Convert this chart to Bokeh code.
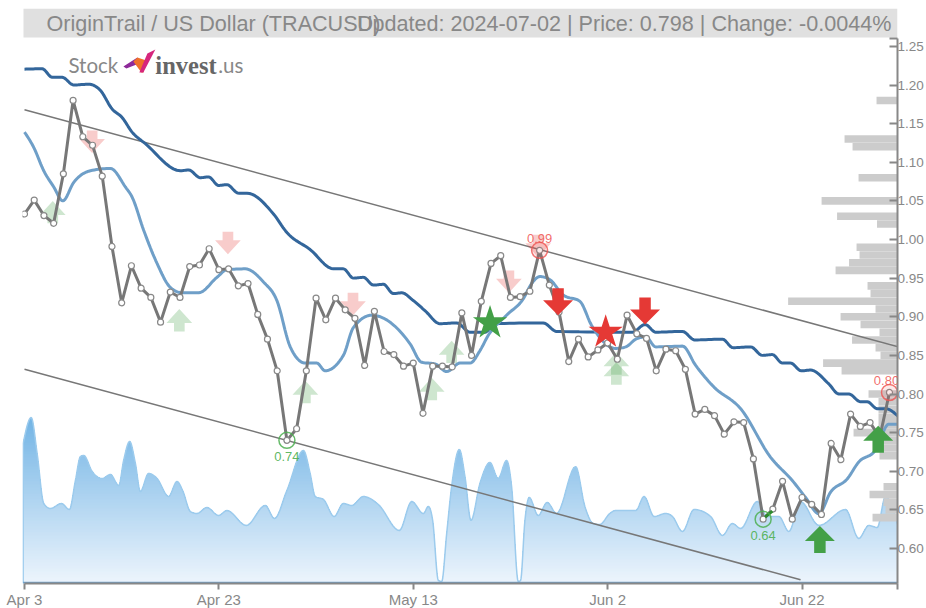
import numpy as np
from bokeh.plotting import figure
from bokeh.models import Range1d, Label, BoxAnnotation, FixedTicker
from bokeh.embed import file_html
from bokeh.resources import INLINE

# ---- data -------------------------------------------------------------
price = [1.033,1.051,1.031,1.021,1.085,1.180,1.133,1.122,1.082,0.991,
         0.918,0.966,0.937,0.925,0.893,0.932,0.925,0.965,0.967,0.988,
         0.961,0.962,0.940,0.943,0.903,0.871,0.830,0.740,0.755,0.830,
         0.924,0.896,0.924,0.909,0.898,0.837,0.907,0.855,0.851,0.836,
         0.840,0.775,0.836,0.836,0.835,0.905,0.850,0.920,0.969,0.979,
         0.925,0.926,0.933,0.986,0.941,0.906,0.842,0.871,0.848,0.857,
         0.866,0.845,0.902,0.878,0.872,0.830,0.858,0.856,0.832,0.774,
         0.780,0.772,0.748,0.764,0.763,0.716,0.638,0.651,0.687,0.638,
         0.666,0.657,0.644,0.736,0.715,0.774,0.758,0.763,0.744,0.802]

slow_days = [0,1.82,2.85,3.87,5.07,6.61,7.81,9.01,10.04,11.07,12.44,16.03,16.89,18.09,18.94,
             19.97,20.83,22.02,22.89,25.62,27.0,29.39,31.79,32.81,33.84,34.87,35.9,36.93,37.95,
             38.82,40.0,41.2,42.75,44.47,45.84,47.38,48.4,53.37,54.75,62.56,63.85,64.95,67.7,
             68.96,71.81,72.9,74.72,75.92,76.95,77.98,78.83,79.93,80.88,82.76,83.79,84.82,86.02,
             86.71,87.74,88.59,89.9]
slow_ma = [1.2205,1.221,1.210,1.210,1.200,1.201,1.193,1.169,1.158,1.139,1.124,1.089,1.090,1.080,1.081,
           1.070,1.071,1.060,1.060,1.033,1.009,0.987,0.962,0.962,0.950,0.951,0.941,0.942,0.930,
           0.931,0.921,0.908,0.891,0.892,0.880,0.880,0.891,0.892,0.881,0.880,0.890,0.880,0.881,
           0.870,0.871,0.860,0.861,0.850,0.851,0.840,0.840,0.830,0.831,0.813,0.800,0.800,0.790,
           0.790,0.781,0.781,0.771]

fast_days = [0,0.96,1.98,3.01,3.94,5.07,6.78,8.84,10.38,11.07,12.26,13.64,15.0,16.21,17.91,19.8,
             20.83,22.71,24.59,25.97,27.34,28.88,30.08,30.93,32.81,33.84,35.73,39.67,40.87,42.24,
             43.44,44.8,45.84,46.86,47.72,49.6,51.31,52.18,53.03,54.06,55.43,57.14,58.34,60.84,
             61.87,62.9,63.92,64.95,67.7,69.06,70.94,73.69,76.77,79.0,80.37,81.74,82.94,84.65,
             85.84,87.55,88.93,89.9]
fast_ma = [1.139,1.119,1.089,1.068,1.050,1.074,1.089,1.092,1.068,1.055,1.012,0.969,0.938,0.931,0.931,0.951,
           0.961,0.962,0.945,0.921,0.861,0.840,0.840,0.830,0.850,0.886,0.902,0.865,0.841,0.839,
           0.829,0.840,0.840,0.856,0.876,0.902,0.923,0.943,0.952,0.948,0.928,0.920,0.889,0.859,
           0.861,0.871,0.874,0.861,0.862,0.837,0.809,0.781,0.718,0.688,0.666,0.645,0.673,0.690,
           0.712,0.727,0.761,0.761]

vol_days = [-0.14,0.69,1.3,1.98,2.67,3.8,4.62,5.24,5.76,6.1,6.96,7.98,8.84,9.7,10.2,10.82,11.41,11.92,
            12.77,13.64,14.83,15.69,16.31,17.06,17.75,18.77,19.97,20.83,22.82,24.77,25.72,27.0,28.7,
            29.39,29.91,30.76,31.86,32.81,33.67,34.87,36.41,38.57,39.84,41.04,41.55,42.0,42.58,42.93,
            43.44,43.95,44.74,45.32,45.94,46.86,47.89,48.74,49.6,50.12,50.8,51.04,51.49,51.93,52.86,
            53.78,54.75,56.7,57.66,58.52,59.2,60.22,60.84,61.87,62.9,63.75,64.78,65.98,66.67,67.7,
            68.89,70.6,71.81,72.83,73.69,75.4,76.43,77.62,78.65,79.85,81.74,84.48,85.84,86.87,87.74,
            88.59,89.9]
volume = [140,166,130,80,75,80,74,103,127,128,112,105,109,98,123,142,120,92,
          110,105,87,102,92,72,70,76,68,73,58,78,65,93,133,
          110,87,84,67,80,78,87,79,53,82,70,77,63,3,2,
          50,97,134,107,63,100,121,105,123,97,2,3,63,86,68,
          81,70,117,77,60,59,70,73,73,73,87,67,70,67,52,
          74,67,48,60,55,82,67,67,52,82,58,74,45,58,56,
          87,57]

profile_levels = [1.18,1.13,1.12,1.08,1.05,1.03,1.02,0.99,0.98,0.97,0.96,0.94,0.93,0.92,0.91,0.90,0.89,
                  0.88,0.87,0.86,0.85,0.84,0.83,0.80,0.79,0.78,0.77,0.76,0.75,0.74,0.73,0.72,0.68,
                  0.67,0.66,0.65,0.64]
profile_widths = [21,53,45,39,76,60.5,20.5,41,38,48.5,62,30,27,109.5,22,57,37,
                  18,45.5,22,17,74.5,56,29,19,19,19,19,44,19,19,18,14,
                  28,14,12,25]

weak_buy_days = [2.91,15.93,28.9,41.9,43.95,60.9,60.9]
weak_buy_vals = [1.050,0.910,0.817,0.821,0.869,0.854,0.841]
weak_sell_days = [6.96,20.93,33.8,49.84,52.85]
weak_sell_vals = [1.112,0.981,0.902,0.931,0.977]
strong_buy_days = [81.84,87.84]
strong_buy_vals = [0.629,0.759]
strong_sell_days = [54.9,63.85]
strong_sell_vals = [0.902,0.890]
star_buy_days = [47.9]
star_buy_vals = [0.892]
star_sell_days = [59.8]
star_sell_vals = [0.880]

high_days = [53,89]
high_vals = [0.986,0.802]
high_text = ["0.99","0.80"]
high_text_shift = [0,-3]
low_days = [27,76]
low_vals = [0.740,0.638]
low_text = ["0.74","0.64"]

upper_days = [0,89.9]
upper_vals = [1.168,0.861]
lower_days = [0,79.85]
lower_vals = [0.832,0.5595]
stub_days = [76.2,76.95]
stub_vals = [0.6405,0.6485]

x_ticks = [0,20,40,60,80,89.8]
x_tick_labels = ["Apr 3","Apr 23","May 13","Jun 2","Jun 22",""]
y_ticks = [0.60,0.65,0.70,0.75,0.80,0.85,0.90,0.95,1.00,1.05,1.10,1.15,1.20,1.25,1.2606]
y_tick_labels = ["0.60","0.65","0.70","0.75","0.80","0.85","0.90","0.95","1.00","1.05","1.10","1.15","1.20","1.25",""]

title_left = "OriginTrail / US Dollar (TRACUSD)"
title_right = "Updated: 2024-07-02 | Price: 0.798 | Change: -0.0044%"

# ---- scale helpers ----------------------------------------------------
PX_DAY = 9.73
PX_UNIT = 772.5
X = lambda px: (px - 24) / PX_DAY
Y = lambda py: 0.6 + (548 - py) / PX_UNIT


def smooth(x, y, n=10):
    """Monotone cubic drawing of the read points (the chart's curve style)."""
    x = np.asarray(x, float); y = np.asarray(y, float)
    h = np.diff(x); s = np.diff(y) / h
    m = np.zeros_like(y)
    for i in range(1, len(x) - 1):
        p_ = (s[i-1]*h[i] + s[i]*h[i-1]) / (h[i-1] + h[i])
        m[i] = (np.sign(s[i-1]) + np.sign(s[i])) * min(abs(s[i-1]), abs(s[i]), 0.5*abs(p_))
    m[0] = (3*s[0] - m[1]) / 2
    m[-1] = (3*s[-1] - m[-2]) / 2
    xs, ys = [], []
    for i in range(len(h)):
        t = np.linspace(0, 1, n, endpoint=False)
        a = (2*t**3 - 3*t**2 + 1); b = (t**3 - 2*t**2 + t); c = (-2*t**3 + 3*t**2); d = (t**3 - t**2)
        xs.append(x[i] + t*h[i])
        ys.append(a*y[i] + b*h[i]*m[i] + c*y[i+1] + d*h[i]*m[i+1])
    xs.append([x[-1]]); ys.append([y[-1]])
    return np.concatenate(xs), np.concatenate(ys)


def arrows(days, vals, direction, head_w, head_h, stem_w, total):
    xs, ys = [], []
    dw = 1 / PX_DAY; dv = direction / PX_UNIT
    for d, v in zip(days, vals):
        xs.append([d, d + head_w/2*dw, d + stem_w/2*dw, d + stem_w/2*dw,
                   d - stem_w/2*dw, d - stem_w/2*dw, d - head_w/2*dw])
        ys.append([v, v - head_h*dv, v - head_h*dv, v - total*dv,
                   v - total*dv, v - head_h*dv, v - head_h*dv])
    return xs, ys


# ---- figure -----------------------------------------------------------
W, H = 926, 611
p = figure(width=W, height=H, output_backend="svg", toolbar_location=None,
           x_range=Range1d(X(22), X(898)), y_range=Range1d(Y(583), Y(8)),
           y_axis_location="right", min_border_left=22, min_border_right=28,
           min_border_top=8, min_border_bottom=28,
           background_fill_color="white", border_fill_color="white", outline_line_color=None)
p.grid.visible = False

GREY = "#888888"
p.xaxis.ticker = FixedTicker(ticks=x_ticks)
p.xaxis.major_label_overrides = dict(zip(x_ticks, x_tick_labels))
p.xaxis.bounds = (0, 89.8)
p.xaxis.major_tick_in = 0; p.xaxis.major_tick_out = 6
p.xaxis.minor_tick_line_color = None
p.xaxis.major_label_standoff = 1
p.xaxis.major_label_text_font_size = "15px"
p.yaxis.ticker = FixedTicker(ticks=y_ticks)
p.yaxis.major_label_overrides = dict(zip(y_ticks, y_tick_labels))
p.yaxis.bounds = (Y(583), Y(38))
p.yaxis.major_tick_in = 8; p.yaxis.major_tick_out = 0
p.yaxis.minor_tick_line_color = None
p.yaxis.major_label_standoff = 0
p.yaxis.major_label_text_font_size = "13.5px"
for ax in (p.xaxis[0], p.yaxis[0]):
    ax.axis_line_color = GREY; ax.axis_line_width = 2
    ax.major_tick_line_color = GREY; ax.major_tick_line_width = 2
    ax.major_label_text_color = GREY
    ax.major_label_text_font = "Liberation Sans"

p.extra_y_ranges = {"vol": Range1d(0, 575)}
p.extra_x_ranges = {"profile": Range1d(876, 0)}

# ---- title bar --------------------------------------------------------
p.add_layout(BoxAnnotation(left=X(23), right=X(898), top=Y(8), bottom=Y(37),
                           fill_color="#e0e0e0", fill_alpha=1, line_color=None, level="underlay"))

# ---- volume area ------------------------------------------------------
vx, vy = smooth(vol_days, volume)
vy = np.maximum(vy, 0)
top_c = np.array([0x72, 0xb4, 0xe5]); bot_c = np.array([0xef, 0xf6, 0xfd])
for L in np.linspace(168, 3, 56):
    f = L / 168
    c = (bot_c + (top_c - bot_c) * f).astype(int)
    p.varea(vx, np.zeros_like(vx), np.minimum(vy, L), y_range_name="vol",
            fill_color="#%02x%02x%02x" % tuple(c))
p.line(np.r_[vx[0], vx, vx[-1]], np.r_[0, vy, 0], y_range_name="vol",
       line_color="#9ccbed", line_width=1.5)
p.line([vx[0], vx[-1]], [0.8, 0.8], y_range_name="vol", line_color="#6f9fc8", line_width=2)

# ---- volume profile ---------------------------------------------------
p.hbar(y=profile_levels, left=profile_widths, right=0, height=0.0098, x_range_name="profile",
       fill_color="#cccccc", line_color=None)

# ---- channel ----------------------------------------------------------
p.line(upper_days, upper_vals, line_color="#777777", line_width=1.5)
p.line(lower_days, lower_vals, line_color="#777777", line_width=1.5)

# ---- weak signals -----------------------------------------------------
xs, ys = arrows(weak_buy_days, weak_buy_vals, 1, 25.7, 14, 10.7, 22.4)
p.patches(xs, ys, fill_color="#43a047", fill_alpha=0.26, line_color=None)
xs, ys = arrows(weak_sell_days, weak_sell_vals, -1, 25.7, 14, 10.7, 22.4)
p.patches(xs, ys, fill_color="#e53935", fill_alpha=0.26, line_color=None)

# ---- moving averages --------------------------------------------------
sx, sy = smooth(slow_days, slow_ma)
p.line(sx, sy, line_color="#33669b", line_width=3)
fx, fy = smooth(fast_days, fast_ma)
p.line(fx, fy, line_color="#6f9fc8", line_width=3)

# ---- price ------------------------------------------------------------
days = list(range(len(price)))
p.line(days, price, line_color="#777777", line_width=3)
p.scatter(days, price, marker="circle", size=6, fill_color="white", line_color="#888888", line_width=1.2)
p.line(stub_days, stub_vals, line_color="#2e8b2e", line_width=3)

# ---- strong signals ---------------------------------------------------
xs, ys = arrows(strong_buy_days, strong_buy_vals, 1, 30, 15, 11.5, 27)
p.patches(xs, ys, fill_color="#43a047", line_color=None)
xs, ys = arrows(strong_sell_days, strong_sell_vals, -1, 30, 15, 11.5, 27)
p.patches(xs, ys, fill_color="#e53935", line_color=None)
p.scatter(star_buy_days, star_buy_vals, marker="star", size=36, fill_color="#43a047", line_color=None)
p.scatter(star_sell_days, star_sell_vals, marker="star", size=36, fill_color="#e53935", line_color=None)

# ---- extremes ---------------------------------------------------------
p.scatter(high_days, high_vals, marker="circle", size=16, fill_color="#ef5350", fill_alpha=0.12,
          line_color="#ef5350", line_alpha=0.8, line_width=1.5)
p.scatter(low_days, low_vals, marker="circle", size=16, fill_color=None,
          line_color="#4caf50", line_alpha=0.85, line_width=1.5)
for d, v, t, s in zip(high_days, high_vals, high_text, high_text_shift):
    p.add_layout(Label(x=d, y=v, text=t, text_color="#ef5350", text_alpha=0.85,
                       text_font="Liberation Sans", text_font_size="13px", text_align="center",
                       text_baseline="middle", x_offset=s, y_offset=12))
for d, v, t in zip(low_days, low_vals, low_text):
    p.add_layout(Label(x=d, y=v, text=t, text_color="#4caf50", text_alpha=0.9,
                       text_font="Liberation Sans", text_font_size="13px", text_align="center",
                       text_baseline="middle", y_offset=-16))

# ---- logo -------------------------------------------------------------
logo_x = [[X(123), X(137), X(139), X(131), X(126)],
          [X(133), X(137), X(146), X(143), X(141)],
          [X(139), X(147), X(155), X(143)]]
logo_y = [[Y(66), Y(57), Y(63), Y(66), Y(68)],
          [Y(61), Y(57), Y(60), Y(72), Y(72)],
          [Y(72), Y(53), Y(49), Y(72)]]
p.patches(logo_x, logo_y, fill_color=["#8e2a9a", "#f0702a", "#d6267c"], line_color=None)
for txt, px_, font, size, col, style in [
        ("Stock", 68, "Lato", "20.5px", "#888888", "normal"),
        ("invest", 155, "Liberation Serif", "24.5px", "#666666", "bold"),
        (".us", 218, "Lato", "20.5px", "#888888", "normal")]:
    p.add_layout(Label(x=X(px_), y=Y(64.5), text=txt, text_font=font, text_font_size=size,
                       text_color=col, text_font_style=style, text_baseline="middle"))

# ---- title text -------------------------------------------------------
p.add_layout(Label(x=X(46), y=Y(22.5), text=title_left, text_font="Liberation Sans",
                   text_font_size="21.6px", text_color="#888888", text_baseline="middle"))
p.add_layout(Label(x=X(892), y=Y(22.5), text=title_right, text_font="Liberation Sans",
                   text_font_size="21.6px", text_color="#888888", text_baseline="middle",
                   text_align="right"))

html = file_html(p, INLINE)
html = html.replace("<head>", "<head><style>html,body{overflow:hidden}</style>", 1)
open("out.html", "w").write(html)
